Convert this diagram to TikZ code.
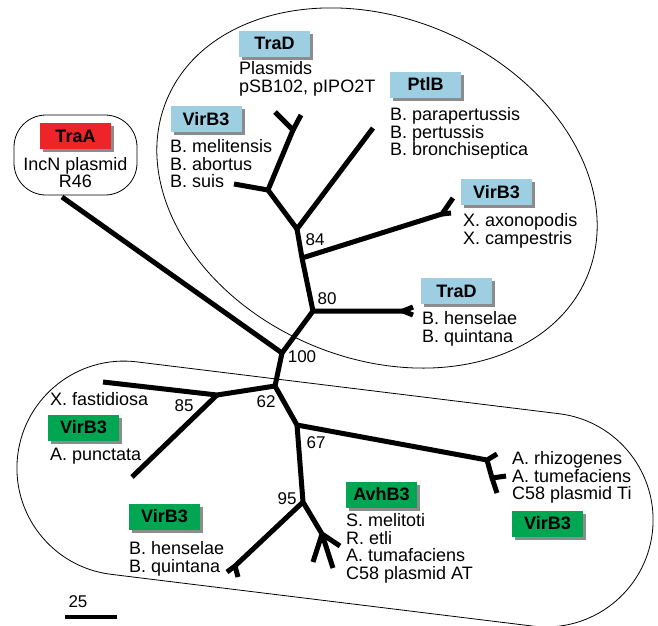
\documentclass[tikz,border=0pt]{standalone}
\usepackage{fontspec}
\setmainfont{Liberation Sans}
\usetikzlibrary{shapes.misc, shadows, positioning}
\definecolor{protblue}{RGB}{158,206,226}
\definecolor{protgreen}{RGB}{0,166,81}
\definecolor{protred}{RGB}{237,36,40}
\tikzset{
  branchline/.style={line width=5pt, line join=miter},
  outline/.style={line width=0.8pt},
  protbox/.style={minimum width=71pt, minimum height=26pt, inner sep=0pt,
    font=\fontsize{18}{18}\selectfont\bfseries,
    drop shadow={shadow xshift=3pt, shadow yshift=-3pt, fill=black!45, opacity=1}},
  taxa/.style={anchor=north west, align=left, inner sep=0pt, font=\fontsize{18}{17.8}\selectfont},
  boot/.style={inner sep=0pt, font=\fontsize{17}{17}\selectfont}
}

\begin{document}
\begin{tikzpicture}[x=1pt, y=-1pt]
\useasboundingbox (0,0) rectangle (658,625);

% Group outlines
\draw[outline, rounded corners=32pt] (14,115) rectangle (137,195);
\draw[outline, rotate around={-23:(377,188)}] (377,188) ellipse [x radius=228, y radius=170];
\node[outline, draw, rounded rectangle, minimum width=646pt, minimum height=214pt,
  rotate=-7] (lowergroup) at (335,494) {};

% Inner nodes
\coordinate (n100) at (282,353);
\coordinate (n80) at (313,311);
\coordinate (nX) at (302,258);
\coordinate (n84) at (297,229);
\coordinate (nBru) at (268,190);
\coordinate (nMel) at (293,130);
\coordinate (n62) at (275,386);
\coordinate (n85) at (217,395);
\coordinate (n67) at (297,425);
\coordinate (nAgr) at (487,460);
\coordinate (nAgrb) at (492,478);
\coordinate (n95) at (303,502);
\coordinate (nAvh) at (322,534);
\coordinate (nBq) at (235,566);
\coordinate (nXt) at (442,214);
\coordinate (nTrt) at (403,311);

% Leaves
\coordinate (lTraA) at (62,197);
\coordinate (lMel) at (275,112);
\coordinate (lAbo) at (301,115);
\coordinate (lSuis) at (234,184);
\coordinate (lPtl) at (373,128);
\coordinate (lXax) at (453,198);
\coordinate (lXca) at (451,213);
\coordinate (lBhe) at (413,307);
\coordinate (lBqu) at (413,315);
\coordinate (lXfa) at (103,382);
\coordinate (lApu) at (132,477);
\coordinate (lArh) at (497,454);
\coordinate (lAtu) at (506,476);
\coordinate (lTi) at (497,493);
\coordinate (lSme) at (340,546);
\coordinate (lRet) at (333,568);
\coordinate (lAT) at (313,562);
\coordinate (lBhe2) at (227,572);
\coordinate (lBqu2) at (238,577);

% Branches
\draw[branchline] (lTraA) -- (n100);
\draw[branchline] (n100) -- (n80) -- (nTrt);
\draw[branchline] (nTrt) -- (lBhe);
\draw[branchline] (nTrt) -- (lBqu);
\draw[branchline] (n80) -- (nX) -- (n84) -- (lPtl);
\draw[branchline] (nX) -- (nXt) -- (lXax);
\draw[branchline] (nXt) -- (lXca);
\draw[branchline] (n84) -- (nBru) -- (nMel) -- (lMel);
\draw[branchline] (nMel) -- (lAbo);
\draw[branchline] (nBru) -- (lSuis);
\draw[branchline] (n100) -- (n62) -- (n85) -- (lXfa);
\draw[branchline] (n85) -- (lApu);
\draw[branchline] (n62) -- (n67) -- (nAgr) -- (lArh);
\draw[branchline] (nAgr) -- (nAgrb) -- (lTi);
\draw[branchline] (nAgrb) -- (lAtu);
\draw[branchline] (n67) -- (n95) -- (nAvh) -- (lSme);
\draw[branchline] (nAvh) -- (lRet);
\draw[branchline] (nAvh) -- (lAT);
\draw[branchline] (n95) -- (nBq) -- (lBhe2);
\draw[branchline] (nBq) -- (lBqu2);

% Bootstrap values
\node[boot] (b100) at (302,357) {100};
\node[boot] (b80) at (327,299) {80};
\node[boot] (b84) at (315,240) {84};
\node[boot] (b85) at (184,406) {85};
\node[boot] (b62) at (266,402) {62};
\node[boot] (b67) at (316,443) {67};
\node[boot] (b95) at (287,499) {95};

% Protein boxes
\node[protbox, fill=protred] (traA) at (75.5,136) {TraA};
\node[protbox, fill=protblue] (traDpl) at (274.5,43.5) {TraD};
\node[protbox, fill=protblue] (virBru) at (206,119) {VirB3};
\node[protbox, fill=protblue] (ptlB) at (425.5,84.5) {PtlB};
\node[protbox, fill=protblue] (virXan) at (496.5,192) {VirB3};
\node[protbox, fill=protblue] (traDbar) at (456.5,291) {TraD};
\node[protbox, fill=protgreen] (virApu) at (83.5,427.5) {VirB3};
\node[protbox, fill=protgreen] (virBar) at (164.5,516.5) {VirB3};
\node[protbox, fill=protgreen] (avhB) at (381.5,494.5) {AvhB3};
\node[protbox, fill=protgreen] (virAgr) at (547.5,523.5) {VirB3};

% Taxa
\node[inner sep=0pt, align=center, font=\fontsize{18}{15}\selectfont, anchor=north]
  (txTraA) at (75.5,157) {IncN plasmid\\R46};
\node[taxa] (txPl) at (239,61) {Plasmids\\pSB102, pIPO2T};
\node[taxa] (txBru) at (170,139) {B. melitensis\\B. abortus\\B. suis};
\node[taxa] (txPtl) at (390,107) {B. parapertussis\\B. pertussis\\B. bronchiseptica};
\node[taxa] (txXan) at (463,213) {X. axonopodis\\X. campestris};
\node[taxa] (txBar) at (422,311) {B. henselae\\B. quintana};
\node[taxa] (txXfa) at (50,392) {X. fastidiosa};
\node[taxa] (txApu) at (50,448) {A. punctata};
\node[taxa] (txBar2) at (129,541) {B. henselae\\B. quintana};
\node[taxa] (txAvh) at (346,513) {S. melitoti\\R. etli\\A. tumafaciens\\C58 plasmid AT};
\node[taxa] (txAgr) at (512,451) {A. rhizogenes\\A. tumefaciens\\C58 plasmid Ti};

% Scale bar
\coordinate (sbl) at (65,617);
\coordinate (sbr) at (117,617);
\draw[line width=4pt] (sbl) -- (sbr);
\node[boot] (sblabel) at (78,602) {25};

\end{tikzpicture}
\end{document}
